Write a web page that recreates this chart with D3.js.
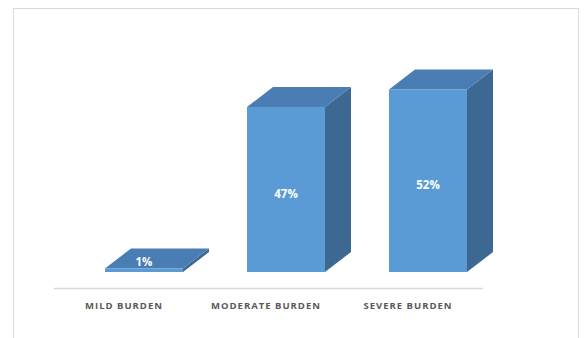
<!DOCTYPE html>
<html>
<head>
<meta charset="utf-8">
<script src="https://cdn.jsdelivr.net/npm/d3@7"></script>
<style>
  html, body { margin: 0; padding: 0; background: #ffffff; }
  svg { display: block; }
</style>
</head>
<body>
<script>
// Burden levels and share of caregivers (%)
const categories = ["MILD BURDEN", "MODERATE BURDEN", "SEVERE BURDEN"];
const values = [1, 47, 52];
const valueLabels = ["1%", "47%", "52%"];

const W = 586, H = 338;
const baseY = 272;          // bottom of the bar fronts
const depthX = 26, depthY = -20; // 3-D extrusion offset

const svg = d3.select("body").append("svg")
  .attr("width", W).attr("height", H);

// chart-area frame
svg.append("rect")
  .attr("x", 13.5).attr("y", 8.5)
  .attr("width", 565).attr("height", 345)
  .attr("fill", "#ffffff")
  .attr("stroke", "#d9d9d9").attr("stroke-width", 1);

const x = d3.scaleBand()
  .domain(categories)
  .range([62.4, 509.6])
  .paddingInner(0.4507)
  .paddingOuter(0.3);

const y = d3.scaleLinear()
  .domain([0, 60])
  .range([baseY, baseY - 60 * 3.51]);

// floor line
svg.append("line")
  .attr("x1", 54).attr("x2", 483)
  .attr("y1", 288.5).attr("y2", 288.5)
  .attr("stroke", "#d9d9d9").attr("stroke-width", 1.5);

const data = categories.map((c, i) => ({ cat: c, v: values[i], label: valueLabels[i] }));

const bars = svg.append("g").selectAll("g").data(data).join("g");

// side face
bars.append("path")
  .attr("fill", "#3c6892")
  .attr("d", d => {
    const x1 = x(d.cat) + x.bandwidth(), yt = y(d.v);
    return `M${x1},${yt} L${x1 + depthX},${yt + depthY} L${x1 + depthX},${baseY + depthY} L${x1},${baseY} Z`;
  });

// top face
bars.append("path")
  .attr("fill", "#4a7db3")
  .attr("d", d => {
    const x0 = x(d.cat), x1 = x0 + x.bandwidth(), yt = y(d.v);
    return `M${x0},${yt} L${x0 + depthX},${yt + depthY} L${x1 + depthX},${yt + depthY} L${x1},${yt} Z`;
  });

// front face
bars.append("rect")
  .attr("fill", "#5b9bd5")
  .attr("x", d => x(d.cat))
  .attr("y", d => y(d.v))
  .attr("width", x.bandwidth())
  .attr("height", d => baseY - y(d.v));

// value labels
bars.append("text")
  .attr("x", d => x(d.cat) + x.bandwidth() / 2)
  .attr("y", d => Math.min((y(d.v) + baseY) / 2 + 4, baseY - 10) + 4)
  .attr("text-anchor", "middle")
  .attr("font-family", "'Open Sans', sans-serif")
  .attr("font-weight", "bold")
  .attr("font-size", "11.5px")
  .attr("fill", "#ffffff")
  .text(d => d.label);

// category axis labels
svg.append("g").selectAll("text").data(categories).join("text")
  .attr("x", c => x(c) + x.bandwidth() / 2 - 20)
  .attr("y", 308.5)
  .attr("text-anchor", "middle")
  .attr("font-family", "'Open Sans', sans-serif")
  .attr("font-weight", "bold")
  .attr("font-size", "9.5px")
  .attr("letter-spacing", "1px")
  .attr("fill", "#595959")
  .text(c => c);
</script>
</body>
</html>
